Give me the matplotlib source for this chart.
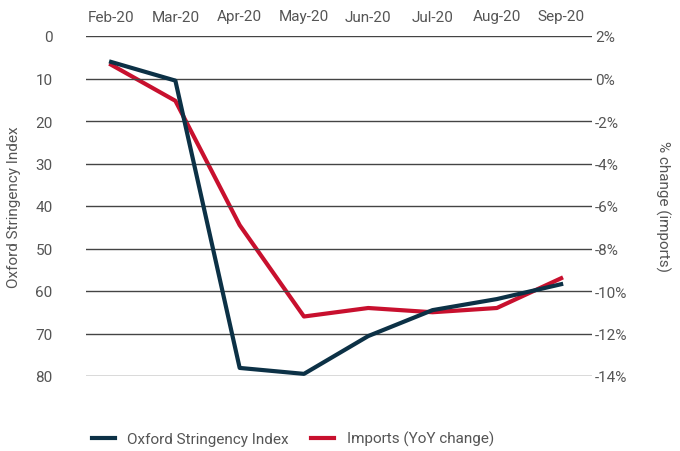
import numpy as np
import matplotlib.pyplot as plt
from matplotlib.ticker import FuncFormatter

##---- Data ----##
months = ["Feb-20", "Mar-20", "Apr-20", "May-20", "Jun-20", "Jul-20", "Aug-20", "Sep-20"]
stringency = [6.1, 10.5, 78.1, 79.5, 70.6, 64.5, 61.9, 58.4]
imports_yoy = [0.65, -1.05, -6.9, -11.2, -10.8, -11.0, -10.8, -9.4]

navy = "#0c3146"
red = "#c8102e"
grey = "#555555"

plt.rcParams['font.family'] = ['Roboto', 'DejaVu Sans']

fig = plt.figure(figsize=(6.8, 4.52), dpi=100)
ax = fig.add_axes([86/680, 1 - 377/452, (592-86)/680, (377-37)/452])
ax2 = ax.twinx()

x = np.arange(len(months))

##---- Gridlines ----##
for v in range(0, 81, 10):
    ax.axhline(v, color="#444444", lw=1.0, zorder=1)

ax.plot(x, stringency, color=navy, lw=3, zorder=3, label="Oxford Stringency Index")
ax2.plot(x, imports_yoy, color=red, lw=3, zorder=2, label="Imports (YoY change)")
ax.set_zorder(ax2.get_zorder() + 1)
ax.patch.set_visible(False)

ax.set_xlim(-0.39, 7.48)
ax.set_ylim(80, 0)
ax2.set_ylim(-14, 2)
ax.set_yticks(range(0, 81, 10))
ax2.set_yticks(range(-14, 3, 2))
ax2.yaxis.set_major_formatter(FuncFormatter(lambda v, p: "{:d}%".format(int(round(v)))))

ax.set_xticks(x)
ax.set_xticklabels(months)
ax.xaxis.tick_top()

for a in (ax, ax2):
    for s in a.spines.values():
        s.set_visible(False)
    a.tick_params(length=0, colors=grey, labelsize=11)
ax.tick_params(axis="y", pad=24)
ax.tick_params(axis="x", pad=9)
ax2.tick_params(axis="y", pad=2)

ax.set_ylabel("Oxford Stringency Index", color=grey, fontsize=11, labelpad=10)
ax2.set_ylabel("% change (imports)", color=grey, fontsize=11, rotation=270, labelpad=31)

h1, l1 = ax.get_legend_handles_labels()
h2, l2 = ax2.get_legend_handles_labels()
fig.legend(h1 + h2, l1 + l2, loc="lower left", bbox_to_anchor=(78/680, -0.02), ncol=2,
           frameon=False, fontsize=11, labelcolor=grey, handlelength=1.5, columnspacing=1.5)

fig.savefig("out.png", dpi=100)
